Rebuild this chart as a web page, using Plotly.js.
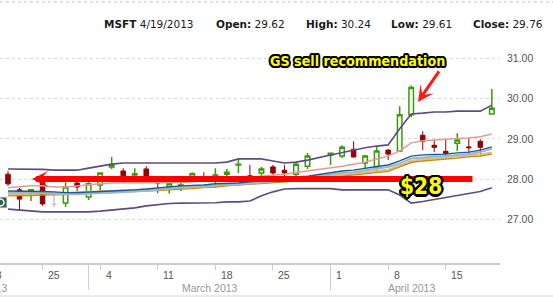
<!DOCTYPE html>
<html><head><meta charset="utf-8">
<script src="https://cdn.plot.ly/plotly-3.0.1.min.js"></script>
<style>html,body{margin:0;padding:0;background:#fff;overflow:hidden}#chart{width:553px;height:297px}</style>
</head><body><div id="chart"></div>
<script>
// ---- data ----
const symbol = 'MSFT';
const dates = ['2013-02-20','2013-02-21','2013-02-22','2013-02-25','2013-02-26','2013-02-27','2013-02-28',
 '2013-03-01','2013-03-04','2013-03-05','2013-03-06','2013-03-07','2013-03-08','2013-03-11','2013-03-12','2013-03-13','2013-03-14','2013-03-15',
 '2013-03-18','2013-03-19','2013-03-20','2013-03-21','2013-03-22','2013-03-25','2013-03-26','2013-03-27','2013-03-28',
 '2013-04-01','2013-04-02','2013-04-03','2013-04-04','2013-04-05','2013-04-08','2013-04-09','2013-04-10','2013-04-11','2013-04-12',
 '2013-04-15','2013-04-16','2013-04-17','2013-04-18','2013-04-19'];
const openP = [28.12,27.73,27.68,28.02,27.37,27.40,27.90,
 27.55,27.85,28.30,28.20,28.10,28.25,27.98,27.80,27.78,28.05,28.02,28.03,28.12,28.35,28.08,28.15,28.30,28.22,28.12,28.32,
 28.60,28.57,28.74,28.40,28.30,28.72,28.70,29.60,29.09,28.84,28.69,28.89,28.80,28.94,29.62];
const highP = [28.20,27.78,27.75,28.10,27.62,27.92,27.93,
 27.93,28.15,28.55,28.27,28.27,28.32,28.00,28.02,28.00,28.17,28.17,28.27,28.25,28.50,28.35,28.30,28.35,28.35,28.42,28.65,
 28.65,28.84,28.94,28.60,28.80,28.74,29.81,30.33,29.19,28.97,28.97,29.14,29.02,28.99,30.24];
const lowP = [27.83,27.23,27.45,27.33,27.30,27.30,27.68,
 27.48,27.68,28.25,27.90,28.02,28.00,27.65,27.63,27.70,27.93,27.93,27.78,28.07,28.15,28.03,28.07,28.07,28.05,28.07,28.25,
 28.35,28.52,28.53,28.25,28.22,28.47,28.67,29.54,28.72,28.67,28.50,28.70,28.55,28.57,29.61];
const closeP = [27.88,27.50,27.73,27.38,27.37,27.80,27.80,
 27.88,28.15,28.35,28.08,28.13,28.02,27.90,27.88,27.85,28.13,28.00,28.10,28.17,28.37,28.06,28.25,28.15,28.15,28.37,28.57,
 28.64,28.79,28.55,28.57,28.70,28.62,29.60,30.28,28.94,28.79,28.64,28.97,28.78,28.79,29.76];
const bbUpper = [28.25,28.25,28.25,28.24,28.22,28.22,28.22,
 28.27,28.32,28.37,28.40,28.40,28.40,28.40,28.40,28.40,28.40,28.40,28.40,28.42,28.50,28.50,28.50,28.45,28.40,28.42,28.47,
 28.60,28.66,28.73,28.78,28.82,28.85,29.25,29.62,29.64,29.67,29.67,29.69,29.69,29.69,29.84];
const bbLower = [27.25,27.23,27.20,27.18,27.18,27.18,27.18,
 27.18,27.20,27.23,27.25,27.28,27.33,27.36,27.39,27.40,27.40,27.41,27.41,27.43,27.43,27.45,27.58,27.68,27.75,27.76,27.76,
 27.76,27.73,27.73,27.73,27.73,27.73,27.60,27.40,27.44,27.49,27.55,27.60,27.65,27.69,27.78];
const maPink = [27.78,27.80,27.83,27.83,27.80,27.80,27.83,
 27.85,27.88,27.90,27.90,27.90,27.90,27.90,27.90,27.91,27.93,27.95,27.98,28.00,28.02,28.05,28.07,28.10,28.12,28.16,28.20,
 28.27,28.32,28.37,28.42,28.50,28.57,28.70,28.90,28.95,28.97,29.00,29.01,29.02,29.05,29.12];
const maBlue = [27.70,27.70,27.70,27.69,27.68,27.66,27.66,
 27.68,27.69,27.70,27.71,27.73,27.75,27.78,27.80,27.83,27.84,27.85,27.88,27.89,27.90,27.93,27.95,27.98,28.01,28.05,28.07,
 28.16,28.20,28.22,28.27,28.31,28.35,28.45,28.57,28.60,28.61,28.62,28.65,28.67,28.72,28.80];
const maLightBlue = [27.66,27.66,27.66,27.65,27.64,27.62,27.62,
 27.64,27.65,27.66,27.67,27.69,27.71,27.74,27.76,27.79,27.80,27.81,27.84,27.85,27.86,27.89,27.91,27.94,27.97,28.01,28.03,
 28.11,28.15,28.17,28.22,28.26,28.30,28.39,28.51,28.54,28.56,28.57,28.60,28.62,28.67,28.75];
const maTan = [27.62,27.62,27.63,27.64,27.64,27.65,27.67,
 27.68,27.69,27.70,27.72,27.73,27.74,27.75,27.77,27.78,27.80,27.83,27.84,27.87,27.89,27.90,27.92,27.94,27.97,27.99,28.02,
 28.08,28.10,28.14,28.16,28.19,28.23,28.34,28.45,28.49,28.51,28.54,28.56,28.59,28.61,28.66];
const maOrange = [27.58,27.58,27.59,27.60,27.60,27.61,27.63,
 27.64,27.65,27.66,27.68,27.69,27.70,27.71,27.73,27.74,27.76,27.79,27.80,27.83,27.85,27.86,27.88,27.90,27.93,27.95,27.98,
 28.04,28.06,28.10,28.12,28.15,28.19,28.30,28.41,28.45,28.47,28.50,28.52,28.55,28.57,28.62];
const tickDates = ['2013-02-18','2013-02-25','2013-03-04','2013-03-11','2013-03-18','2013-03-25','2013-04-01','2013-04-08','2013-04-15'];
const tickLabels = ['18','25','4','11','18','25','1','8','15'];
const monthStarts = ['2013-02-01','2013-03-01','2013-04-01'];
const monthEnds = ['2013-03-01','2013-04-01','2013-04-19'];
const monthLabels = ['February 2013','March 2013','April 2013'];
const yTicks = [27,28,29,30,31];
const supportLevel = 28;
const supportLabel = '$28';
const noteLabel = 'GS sell recommendation';
const noteDate = '2013-04-10';
const noteLevel = 29.92;

// ---- geometry ----
const L = 0, T = 40, W = 500, H = 223, FW = 553, FH = 297;
const pxPerDay = 11.52;
const X0 = -8 / pxPerDay, X1 = X0 + W / pxPerDay;
const yPerPx = 1 / 40.15;
const Y1 = 28 + (179 - T) * yPerPx, Y0 = Y1 - H * yPerPx;
const pX = p => (p - L) / W;
const pY = p => 1 - (p - T) / H;
const DAY = 86400000;
function idx(d) {
  const t0 = Date.parse(dates[0] + 'T00:00:00Z'), t = Date.parse(d + 'T00:00:00Z');
  let n = 0;
  if (t >= t0) { for (let x = t0 + DAY; x <= t; x += DAY) { const w = new Date(x).getUTCDay(); if (w !== 0 && w !== 6) n++; } }
  else { for (let x = t0 - DAY; x >= t; x -= DAY) { const w = new Date(x).getUTCDay(); if (w !== 0 && w !== 6) n--; } }
  return n;
}
const xs = dates.map(idx);
const frac = i => (i - X0) / (X1 - X0);

function outline(r, col) {
  const s = [];
  for (let a = 0; a < 360; a += 30) {
    const dx = (r * Math.cos(a * Math.PI / 180)).toFixed(2), dy = (r * Math.sin(a * Math.PI / 180)).toFixed(2);
    s.push(dx + 'px ' + dy + 'px 0 ' + col);
  }
  return s.join(', ');
}

function candles(filter, inc, dec) {
  const k = dates.map((_, i) => i).filter(filter);
  return {
    type: 'candlestick', x: k.map(i => xs[i]),
    open: k.map(i => openP[i]), high: k.map(i => highP[i]), low: k.map(i => lowP[i]), close: k.map(i => closeP[i]),
    increasing: inc, decreasing: dec, whiskerwidth: 0, hoverinfo: 'skip', showlegend: false
  };
}
const upStyle = {line: {color: '#3a9a0c', width: 1.5}, fillcolor: '#ffffff'};
const dnStyle = {line: {color: '#930000', width: 1}, fillcolor: '#960000'};
const flatStyle = {line: {color: '#c6c6c6', width: 1.5}, fillcolor: '#c6c6c6'};

function line(y, color, width) {
  return {type: 'scatter', mode: 'lines', x: xs, y: y, line: {color: color, width: width}, hoverinfo: 'skip', showlegend: false};
}

const data = [
  line(bbUpper, '#5e4b80', 1.6),
  line(bbLower, '#5e4b80', 1.6),
  line(maTan, '#dcbf86', 2),
  line(maOrange, '#c48a14', 1.4),
  line(maLightBlue, '#9cb8cc', 2),
  line(maBlue, '#1d5a8a', 1.4),
  line(maPink, '#e29c96', 1.5),
  candles(i => closeP[i] > openP[i], upStyle, upStyle),
  candles(i => closeP[i] < openP[i], dnStyle, dnStyle),
  candles(i => closeP[i] === openP[i], flatStyle, flatStyle)
];

const last = dates.length - 1;
const fmtDate = d => { const [y, m, dd] = d.split('-'); return (+m) + '/' + (+dd) + '/' + y; };
const hdrFont = {family: 'DejaVu Sans, Verdana, sans-serif', size: 10.5, color: '#1a1a1a'};
const header = [
  {px: 101.5, text: '<b>' + symbol + '</b> ' + fmtDate(dates[last])},
  {px: 214, text: '<b>Open:</b> ' + openP[last].toFixed(2)},
  {px: 304, text: '<b>High:</b> ' + highP[last].toFixed(2)},
  {px: 389, text: '<b>Low:</b> ' + lowP[last].toFixed(2)},
  {px: 471, text: '<b>Close:</b> ' + closeP[last].toFixed(2)}
];

const axFont = {family: 'Liberation Sans, Arial, sans-serif', size: 10.5, color: '#555555'};
const annotations = [];
header.forEach(h => annotations.push({xref: 'paper', yref: 'paper', x: pX(h.px), y: pY(24.5), xanchor: 'left', yanchor: 'middle',
  text: h.text, showarrow: false, font: hdrFont}));
tickDates.forEach((d, k) => annotations.push({xref: 'paper', yref: 'paper', x: frac(idx(d)), xshift: 3.5, y: pY(274.5),
  xanchor: 'left', yanchor: 'middle', text: tickLabels[k], showarrow: false, font: axFont}));
monthLabels.forEach((m, k) => annotations.push({xref: 'paper', yref: 'paper', x: frac((idx(monthStarts[k]) + idx(monthEnds[k])) / 2),
  y: pY(287.5), xanchor: 'center', yanchor: 'middle', text: m, showarrow: false,
  font: {family: 'Liberation Sans, Arial, sans-serif', size: 10.5, color: '#999999'}}));

// red support arrow and labels
annotations.push({xref: 'x', yref: 'y', axref: 'x', ayref: 'y', x: (32 - 8) / pxPerDay, y: supportLevel,
  ax: (474 - 8) / pxPerDay, ay: supportLevel, text: '', showarrow: true, arrowhead: 3, arrowsize: 0.45, arrowwidth: 6, arrowcolor: '#ff0000'});
annotations.push({xref: 'x', yref: 'y', x: idx(noteDate) + 0.59, y: noteLevel, ax: 22, ay: -32, text: '', showarrow: true,
  arrowhead: 3, arrowsize: 0.9, arrowwidth: 3, arrowcolor: '#ff1a1a'});
const bigFont = 'Liberation Sans Narrow, Arial Narrow, DejaVu Sans Condensed, sans-serif';
annotations.push({xref: 'paper', yref: 'paper', x: pX(357), y: pY(60.5), xanchor: 'center', yanchor: 'middle', text: '<b>' + noteLabel + '</b>',
  showarrow: false, font: {family: bigFont, size: 14.2, color: '#ffff00', shadow: outline(2, '#000')}});
annotations.push({xref: 'paper', yref: 'paper', x: pX(421), y: pY(186), xanchor: 'center', yanchor: 'middle', text: '<b>' + supportLabel + '</b>',
  showarrow: false, font: {family: bigFont, size: 22.5, color: '#ffff00', shadow: outline(2.5, '#000')}});

const shapes = [
  {type: 'line', xref: 'paper', yref: 'paper', x0: pX(0), x1: pX(FW), y0: pY(2), y1: pY(2), line: {color: '#c4c4c4', width: 1, dash: 'dot'}},
  {type: 'line', xref: 'paper', yref: 'paper', x0: pX(0), x1: pX(FW), y0: pY(296), y1: pY(296), line: {color: '#d6d6d6', width: 1}},
  {type: 'rect', xref: 'paper', yref: 'paper', x0: pX(-2), x1: pX(7), y0: pY(197), y1: pY(208), fillcolor: '#31604a', line: {color: '#e8e8e8', width: 1}},
  {type: 'circle', xref: 'paper', yref: 'paper', x0: pX(-4), x1: pX(4), y0: pY(199), y1: pY(206), line: {color: '#ffffff', width: 1.5}}
];
monthStarts.slice(1).forEach(d => shapes.push({type: 'line', xref: 'x', yref: 'paper', x0: idx(d), x1: idx(d),
  y0: pY(263), y1: pY(290), line: {color: '#cccccc', width: 1}}));

const layout = {
  width: FW, height: FH, margin: {l: L, r: FW - L - W, t: T, b: FH - T - H, pad: 0},
  paper_bgcolor: '#ffffff', plot_bgcolor: '#ffffff', showlegend: false, hovermode: false, dragmode: false,
  boxgap: 0.44,
  xaxis: {range: [X0, X1], fixedrange: true, rangeslider: {visible: false}, showgrid: false, zeroline: false,
    showline: true, linecolor: '#cccccc', linewidth: 2, ticks: 'outside', ticklen: 5, tickcolor: '#cccccc', tickwidth: 1,
    tickvals: tickDates.map(idx), showticklabels: false},
  yaxis: {range: [Y0, Y1], fixedrange: true, side: 'right', tickvals: yTicks, tickformat: '.2f', ticks: '',
    ticklabelstandoff: 6, tickfont: axFont, showgrid: true, gridcolor: '#c9dede', griddash: 'dot', gridwidth: 1,
    zeroline: false, showline: false},
  annotations: annotations, shapes: shapes
};
Plotly.newPlot('chart', data, layout, {displayModeBar: false, staticPlot: true});
</script></body></html>
